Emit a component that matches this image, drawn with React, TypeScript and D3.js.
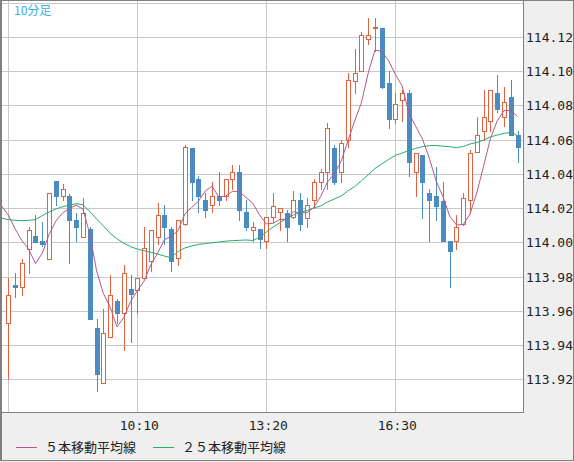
import * as d3 from "d3";

// 10-minute candles, 07:00 .. 19:30
const opens = [113.953, 113.975, 113.974, 113.996, 114.004, 114.001, 113.990, 114.036, 114.027, 114.027, 114.013, 114.003, 114.008, 113.950, 113.918, 113.945, 113.966, 113.959, 113.973, 113.972, 113.979, 113.989, 114.003, 114.016, 114.008, 113.991, 114.011, 114.055, 114.037, 114.025, 114.022, 114.027, 114.027, 114.037, 114.041, 114.018, 114.007, 114.008, 114.001, 114.015, 114.018, 114.017, 114.015, 114.025, 114.014, 114.025, 114.035, 114.041, 114.055, 114.041, 114.060, 114.094, 114.100, 114.119, 114.125, 114.125, 114.093, 114.072, 114.083, 114.087, 114.041, 114.051, 114.029, 114.027, 114.024, 114.001, 114.001, 114.011, 114.025, 114.053, 114.065, 114.071, 114.087, 114.073, 114.085, 114.063];
const highs = [113.979, 113.982, 113.990, 114.009, 114.016, 114.012, 114.029, 114.036, 114.034, 114.028, 114.017, 114.026, 114.009, 113.955, 113.961, 113.981, 113.967, 113.987, 113.981, 113.979, 114.009, 114.007, 114.023, 114.022, 114.009, 114.013, 114.057, 114.055, 114.039, 114.029, 114.035, 114.041, 114.037, 114.045, 114.045, 114.025, 114.012, 114.008, 114.015, 114.029, 114.020, 114.019, 114.030, 114.029, 114.026, 114.037, 114.043, 114.070, 114.057, 114.060, 114.099, 114.113, 114.123, 114.131, 114.131, 114.125, 114.100, 114.087, 114.089, 114.089, 114.052, 114.051, 114.031, 114.044, 114.035, 114.001, 114.016, 114.029, 114.054, 114.073, 114.089, 114.089, 114.098, 114.091, 114.095, 114.065];
const lows = [113.920, 113.968, 113.969, 113.982, 114.000, 113.998, 113.990, 114.022, 114.025, 113.988, 114.001, 114.003, 113.955, 113.913, 113.918, 113.945, 113.953, 113.937, 113.942, 113.959, 113.979, 113.983, 113.999, 113.999, 113.983, 113.987, 114.010, 114.025, 114.018, 114.015, 114.018, 114.022, 114.025, 114.031, 114.013, 114.007, 114.001, 113.997, 113.997, 114.012, 114.007, 114.001, 114.014, 114.007, 114.009, 114.020, 114.031, 114.031, 114.034, 114.035, 114.056, 114.087, 114.100, 114.116, 114.112, 114.090, 114.067, 114.070, 114.071, 114.039, 114.027, 114.014, 114.001, 114.013, 114.001, 113.974, 113.996, 114.010, 114.017, 114.053, 114.060, 114.065, 114.076, 114.068, 114.063, 114.047];
const closes = [113.969, 113.974, 113.988, 114.007, 114.000, 113.999, 114.029, 114.027, 114.031, 114.013, 114.009, 114.017, 113.955, 113.923, 113.947, 113.969, 113.959, 113.982, 113.970, 113.979, 113.997, 114.007, 114.016, 114.009, 113.989, 114.013, 114.056, 114.035, 114.027, 114.019, 114.027, 114.025, 114.037, 114.041, 114.019, 114.009, 114.009, 114.002, 114.015, 114.021, 114.020, 114.009, 114.025, 114.011, 114.022, 114.035, 114.041, 114.067, 114.035, 114.058, 114.095, 114.099, 114.121, 114.121, 114.126, 114.091, 114.072, 114.081, 114.087, 114.047, 114.052, 114.035, 114.025, 114.021, 114.001, 113.995, 114.009, 114.026, 114.052, 114.063, 114.073, 114.089, 114.078, 114.082, 114.063, 114.056];

// moving averages, starting one bar before the first visible candle
const ma5 = [114.0213, 114.016, 114.008, 114.001, 113.996, 113.9876, 113.9936, 114.0046, 114.0124, 114.0172, 114.0198, 114.0218, 114.0194, 114.005, 113.9834, 113.9702, 113.9622, 113.9506, 113.956, 113.9654, 113.9718, 113.9774, 113.987, 113.9938, 114.0016, 114.0036, 114.0068, 114.0166, 114.0204, 114.024, 114.030, 114.0328, 114.0266, 114.027, 114.0298, 114.0298, 114.0262, 114.023, 114.016, 114.0108, 114.0112, 114.0134, 114.0134, 114.018, 114.0172, 114.0174, 114.0204, 114.0268, 114.0352, 114.040, 114.0472, 114.0592, 114.0708, 114.0816, 114.0988, 114.1124, 114.1116, 114.1062, 114.0982, 114.0914, 114.0756, 114.0678, 114.0604, 114.0492, 114.036, 114.0268, 114.0154, 114.0102, 114.0104, 114.0166, 114.029, 114.0446, 114.0606, 114.071, 114.077, 114.077, 114.0736];
const ma25 = [114.0141, 114.0133, 114.0129, 114.0127, 114.0129, 114.0133, 114.0156, 114.0178, 114.0195, 114.0208, 114.0217, 114.0226, 114.0220, 114.0180, 114.0137, 114.0096, 114.0053, 114.0021, 113.9996, 113.9975, 113.9961, 113.9951, 113.9942, 113.9932, 113.9920, 113.9910, 113.9947, 113.9967, 113.9979, 113.9988, 113.9993, 113.9998, 114.0002, 114.0007, 114.0010, 114.0012, 114.0014, 114.0011, 114.0029, 114.0061, 114.0090, 114.0116, 114.0140, 114.0160, 114.0175, 114.0186, 114.0201, 114.0213, 114.0236, 114.0253, 114.0271, 114.0300, 114.0326, 114.0359, 114.0394, 114.0432, 114.0458, 114.0484, 114.0508, 114.0522, 114.0537, 114.0549, 114.0560, 114.0565, 114.0566, 114.0562, 114.0559, 114.0554, 114.0560, 114.0575, 114.0584, 114.0598, 114.0616, 114.0627, 114.0637, 114.0642, 114.0624];

const gridIdx = [0, 19, 38, 57];
const timeLabels = ["", "10:10", "13:20", "16:30"];
const yTicks = [113.92, 113.94, 113.96, 113.98, 114.0, 114.02, 114.04, 114.06, 114.08, 114.1, 114.12];
const yGrid = [...yTicks, 114.14];

const W = 574;
const H = 462;
const plotR = 523;
const plotB = 412;
const UP = "#dc6440";
const DOWN = "#4a8cc2";
const MA5C = "#b4588a";
const MA25C = "#27ae6b";
const MONO = "'DejaVu Sans Mono', monospace";
const JP = "'Noto Sans CJK JP', sans-serif";

export default function App() {
	const x = d3.scaleLinear().domain([0, 75]).range([8.3, 517.55]);
	const y = d3.scaleLinear().domain([113.92, 114.12]).range([379.3, 37]);

	const maLine = d3
		.line<number>()
		.x((_, i) => x(i - 1))
		.y((d) => y(d));

	return (
		<svg
			width={W}
			height={H}
			style={{ position: "absolute", left: 0, top: 0 }}
		>
			<defs>
				<clipPath id="plot">
					<rect x={1} y={1} width={plotR - 1} height={plotB - 1} />
				</clipPath>
			</defs>
			<rect x={0} y={0} width={W} height={H} fill="#efefef" />
			<rect x={1} y={1} width={plotR - 1} height={plotB - 1} fill="#fff" />

			{/* grid */}
			<g stroke="#c8c8c8" shapeRendering="crispEdges">
				{yGrid.map((v) => (
					<line key={v} x1={1} x2={plotR} y1={Math.round(y(v)) + 0.5} y2={Math.round(y(v)) + 0.5} />
				))}
				{gridIdx.map((i) => (
					<line key={i} x1={Math.round(x(i)) + 0.5} x2={Math.round(x(i)) + 0.5} y1={1} y2={plotB} />
				))}
			</g>

			{/* candles */}
			<g clipPath="url(#plot)" shapeRendering="crispEdges">
				{opens.map((o, i) => {
					const c = closes[i];
					const cx = Math.round(x(i));
					const yh = Math.round(y(highs[i]));
					const yl = Math.round(y(lows[i]));
					const yo = Math.round(y(o));
					const yc = Math.round(y(c));
					if (c >= o) {
						const top = Math.min(yo, yc);
						const bot = Math.max(yo, yc);
						return (
							<g key={i} stroke={UP} fill="#fff">
								<line x1={cx + 0.5} x2={cx + 0.5} y1={yh} y2={top} />
								<line x1={cx + 0.5} x2={cx + 0.5} y1={bot + 1} y2={yl + 1} />
								<rect x={cx - 1.5} y={top + 0.5} width={4} height={Math.max(bot - top, 1)} />
							</g>
						);
					}
					return (
						<g key={i}>
							<line x1={cx + 0.5} x2={cx + 0.5} y1={yh} y2={yl + 1} stroke={DOWN} />
							<rect x={cx - 2} y={yo} width={5} height={Math.max(yc - yo, 1) + 1} fill={DOWN} />
						</g>
					);
				})}
			</g>

			{/* moving averages */}
			<g clipPath="url(#plot)" fill="none" strokeWidth={1}>
				<path d={maLine(ma25) ?? ""} stroke={MA25C} />
				<path d={maLine(ma5) ?? ""} stroke={MA5C} />
			</g>

			{/* frame */}
			<g stroke="#808080" shapeRendering="crispEdges">
				<line x1={plotR + 0.5} x2={plotR + 0.5} y1={1} y2={plotB + 1} />
				<line x1={1} x2={plotR + 1} y1={plotB + 0.5} y2={plotB + 0.5} />
				<rect x={0.5} y={0.5} width={W - 1} height={H - 2} fill="none" />
				<line x1={1.5} x2={1.5} y1={0} y2={H - 1} />
			</g>

			<text x={14} y={15} fontFamily={JP} fontSize={12} fill="#3ab0e6">
				10分足
			</text>

			{/* y labels */}
			<g fontFamily={MONO} fontSize={13} fill="#222">
				{yTicks.map((v) => (
					<text key={v} x={526} y={y(v) + 5}>
						{v.toFixed(2)}
					</text>
				))}
			</g>

			{/* x labels */}
			<g fontFamily={MONO} fontSize={13} fill="#222" textAnchor="middle">
				{gridIdx.map((i, k) => (
					<text key={i} x={x(i) + 2} y={430}>
						{timeLabels[k]}
					</text>
				))}
			</g>

			{/* legend */}
			<g fontFamily={JP} fontSize={13} fill="#222">
				<line x1={16} x2={37} y1={447.5} y2={447.5} stroke={MA5C} />
				<text x={45} y={452}>５本移動平均線</text>
				<line x1={153} x2={174} y1={447.5} y2={447.5} stroke={MA25C} />
				<text x={182} y={452}>２５本移動平均線</text>
			</g>
		</svg>
	);
}
